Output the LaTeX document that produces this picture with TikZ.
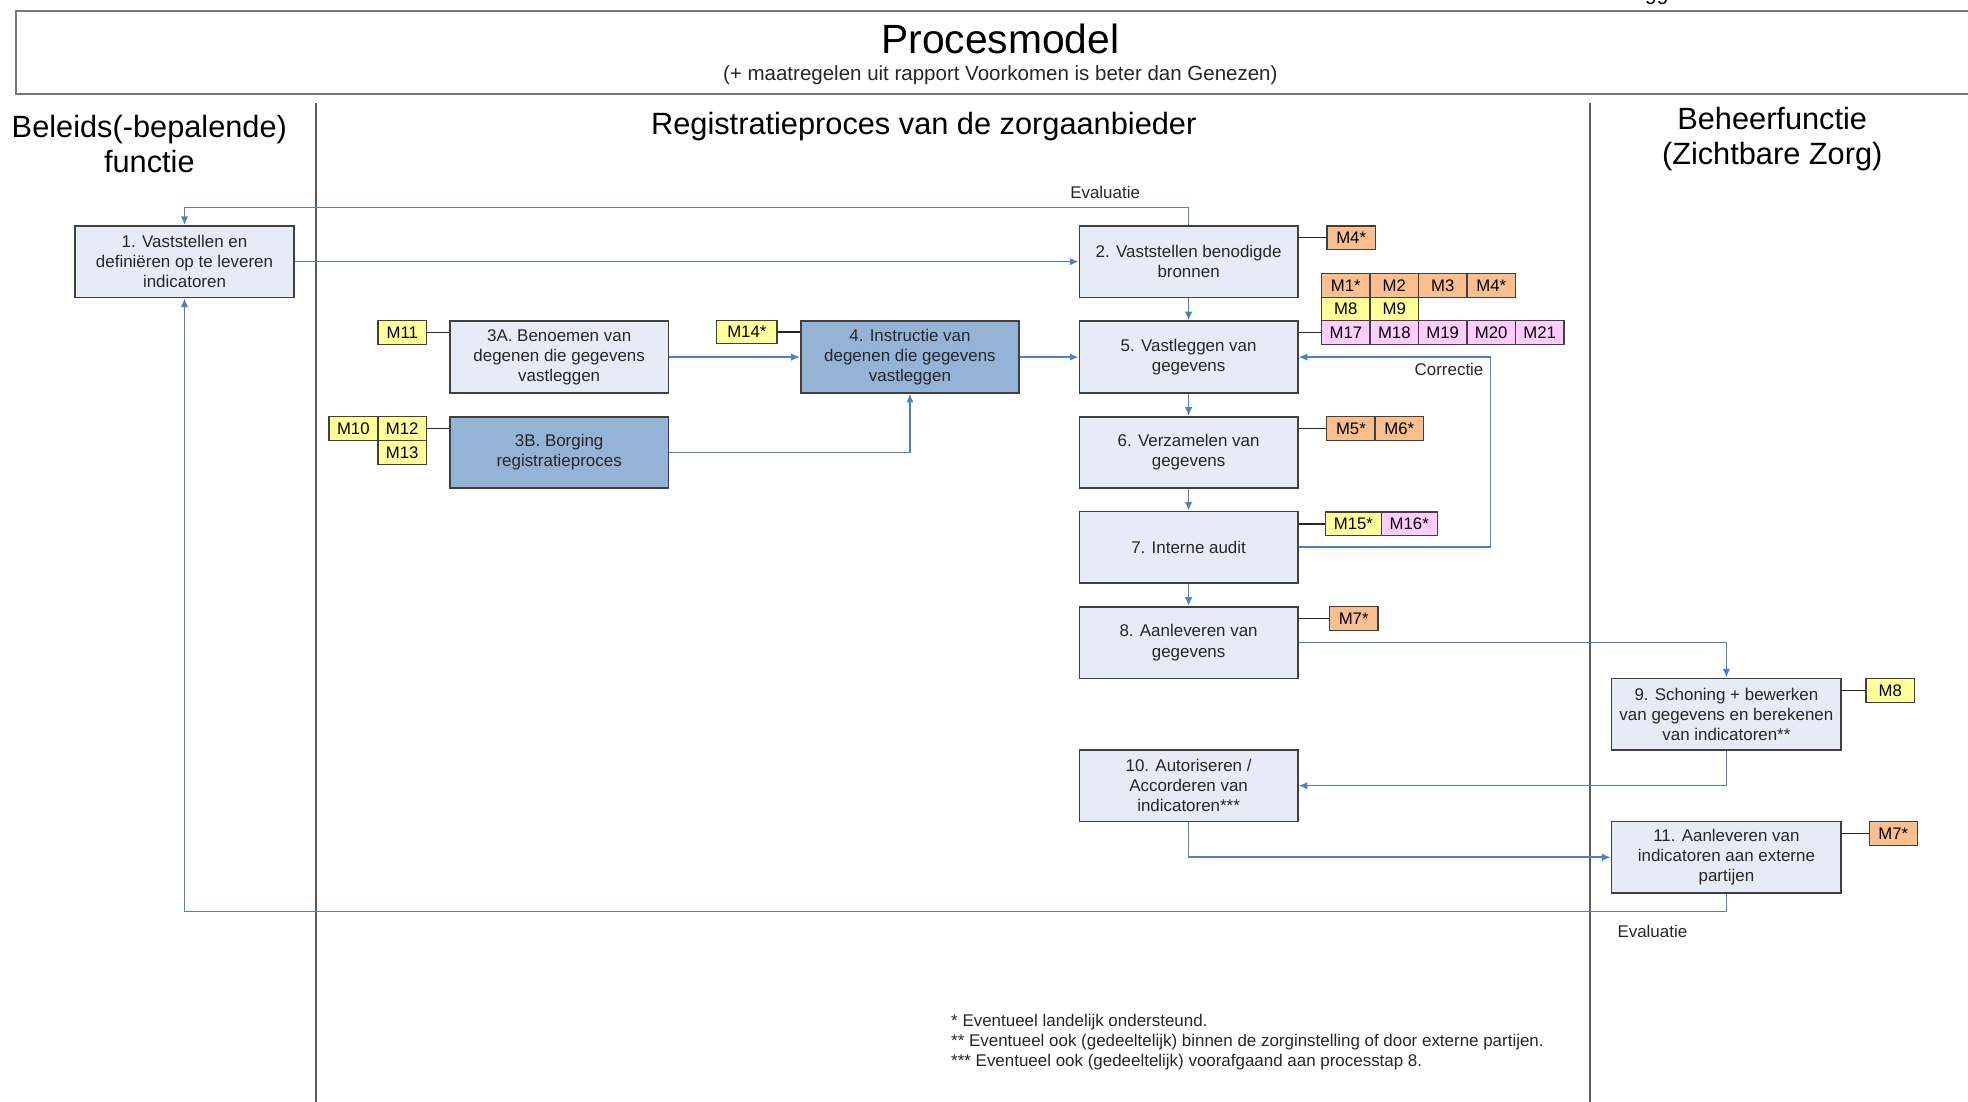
\documentclass[tikz,border=0pt]{standalone}
\usepackage{fontspec}
\setmainfont{Liberation Sans}
\usetikzlibrary{arrows.meta,positioning}

\definecolor{boxfill}{RGB}{229,236,246}
\definecolor{boxdark}{RGB}{149,179,215}
\definecolor{boxline}{RGB}{64,64,64}
\definecolor{flowc}{RGB}{79,129,189}
\definecolor{txt}{RGB}{38,38,38}
\definecolor{framec}{RGB}{120,120,120}
\definecolor{dividerc}{RGB}{90,90,90}
\definecolor{torange}{RGB}{250,191,143}
\definecolor{tyellow}{RGB}{255,255,153}
\definecolor{tpink}{RGB}{255,204,255}

\tikzset{
  proc/.style={draw=boxline, line width=0.8pt, fill=boxfill, minimum width=104.4pt,
    minimum height=34.2pt, inner sep=1pt, align=center, text=txt,
    font=\fontsize{8.1}{9.6}\selectfont},
  procdark/.style={proc, fill=boxdark},
  tag/.style={draw=boxline, line width=0.6pt, minimum width=23.16pt, minimum height=11.3pt,
    inner sep=0pt, text=black, font=\fontsize{8}{9}\selectfont},
  widetag/.style={tag, minimum width=26.7pt},
  orange/.style={fill=torange},
  yellow/.style={fill=tyellow},
  pink/.style={fill=tpink},
  flow/.style={draw=flowc, line width=0.75pt, -{Latex[length=4.2pt,width=3.6pt]}},
  link/.style={draw=black!85, line width=0.6pt},
  note/.style={text=txt, font=\fontsize{8.1}{9.6}\selectfont},
  header/.style={text=black, align=center, font=\fontsize{14.7}{16.8}\selectfont},
}

\begin{document}
\begin{tikzpicture}[x=0.6pt,y=-0.6pt]
\useasboundingbox (0,0) rectangle (1568,878);

% page number, cut off at the top edge
\node[anchor=base, font=\fontsize{10}{12}\selectfont] (pagenr) at (1320,3.5) {99};

% title frame
\draw[draw=framec, line width=1pt] (12.7,8.8) rectangle (1585,75.2);
\node[font=\fontsize{19.5}{22}\selectfont] (title) at (797,31) {Procesmodel};
\node[font=\fontsize{9.8}{11}\selectfont, text=txt] (subtitle) at (797,60)
  {(+ maatregelen uit rapport Voorkomen is beter dan Genezen)};

% column dividers and headers
\draw[draw=dividerc, line width=0.8pt] (252,82) -- (252,880);
\draw[draw=dividerc, line width=0.8pt] (1267,82) -- (1267,880);
\node[header] (hleft) at (119,115) {Beleids(-bepalende)\\functie};
\node[header] (hmid) at (736,101) {Registratieproces van de zorgaanbieder};
\node[header] (hright) at (1412,111) {Beheerfunctie\\(Zichtbare Zorg)};

% process steps
\node[proc] (b1) at (147,208.5) {1. Vaststellen en\\definiëren op te leveren\\indicatoren};
\node[proc] (b2) at (947,208.5) {2. Vaststellen benodigde\\bronnen};
\node[proc] (b3a) at (445.5,284.5) {3A. Benoemen van\\degenen die gegevens\\vastleggen};
\node[procdark] (b3b) at (445.5,360.5) {3B. Borging\\registratieproces};
\node[procdark] (b4) at (725,284.5) {4. Instructie van\\degenen die gegevens\\vastleggen};
\node[proc] (b5) at (947,284.5) {5. Vastleggen van\\gegevens};
\node[proc] (b6) at (947,360.5) {6. Verzamelen van\\gegevens};
\node[proc] (b7) at (947,436) {7. Interne audit};
\node[proc] (b8) at (947,512) {8. Aanleveren van\\gegevens};
\node[proc, minimum width=109.8pt] (b9) at (1375.5,569) {9. Schoning + bewerken\\van gegevens en berekenen\\van indicatoren**};
\node[proc] (b10) at (947,626) {10. Autoriseren /\\Accorderen van\\indicatoren***};
\node[proc, minimum width=109.8pt] (b11) at (1375.5,683) {11. Aanleveren van\\indicatoren aan externe\\partijen};

% flows
\draw[flow] (b2.north) -- ++(0,-14) -| (b1.north);
\draw[flow] (b1.east) -- (b2.west);
\draw[flow] (b2.south) -- (b5.north);
\draw[flow] (b3a.east) -- (b4.west);
\draw[flow] (b4.east) -- (b5.west);
\draw[flow] (b3b.east) -| (b4.south);
\draw[flow] (b5.south) -- (b6.north);
\draw[flow] (b6.south) -- (b7.north);
\draw[flow] (b7.south) -- (b8.north);
\draw[flow] (b7.east) -- ++(153,0) |- (b5.east);
\draw[flow] (b8.east) -| (b9.north);
\draw[flow] (b9.south) |- (b10.east);
\draw[flow] (b10.south) |- (b11.west);
\draw[flow] (b11.south) -- ++(0,14) -| (b1.south);

% flow labels
\node[note] (ev1) at (880.5,153) {Evaluatie};
\node[note] (corr) at (1154.5,294) {Correctie};
\node[note] (ev2) at (1316.5,742) {Evaluatie};

% measures: step 2
\node[tag, orange] (m2a) at (1076.5,189.5) {M4*};
\draw[link] (b2.east |- m2a.west) -- (m2a.west);

% measures: step 5
\node[tag, orange] (r1) at (1072.3,227.4) {M1*};
\node[tag, orange] (r2) at (1110.9,227.4) {M2};
\node[tag, orange] (r3) at (1149.5,227.4) {M3};
\node[tag, orange] (r4) at (1188.1,227.4) {M4*};
\node[tag, yellow] (s1) at (1072.3,246.2) {M8};
\node[tag, yellow] (s2) at (1110.9,246.2) {M9};
\node[tag, pink] (p1) at (1072.3,265) {M17};
\node[tag, pink] (p2) at (1110.9,265) {M18};
\node[tag, pink] (p3) at (1149.5,265) {M19};
\node[tag, pink] (p4) at (1188.1,265) {M20};
\node[tag, pink] (p5) at (1226.7,265) {M21};
\draw[link] (b5.east |- p1.west) -- (p1.west);

% measures: step 6
\node[tag, orange] (m6a) at (1076.3,341.5) {M5*};
\node[tag, orange] (m6b) at (1114.9,341.5) {M6*};
\draw[link] (b6.east |- m6a.west) -- (m6a.west);

% measures: step 7
\node[widetag, yellow] (m7a) at (1078.3,417.4) {M15*};
\node[widetag, pink] (m7b) at (1122.8,417.4) {M16*};
\draw[link] (b7.east |- m7a.west) -- (m7a.west);

% measures: step 8
\node[tag, orange] (m8a) at (1078.5,492.7) {M7*};
\draw[link] (b8.east |- m8a.west) -- (m8a.west);

% measures: step 9
\node[tag, yellow] (m9a) at (1506,550) {M8};
\draw[link] (b9.east |- m9a.west) -- (m9a.west);

% measures: step 11
\node[tag, orange] (m11a) at (1508.5,664) {M7*};
\draw[link] (b11.east |- m11a.west) -- (m11a.west);

% measures: step 3A
\node[tag, yellow] (m3a) at (320.5,265) {M11};
\draw[link] (m3a.east) -- (b3a.west |- m3a.east);

% measures: step 4
\node[tag, yellow, minimum width=28.8pt] (m4a) at (595,264.5) {M14*};
\draw[link] (m4a.east) -- (b4.west |- m4a.east);

% measures: step 3B
\node[tag, yellow] (m3b1) at (281.5,341.5) {M10};
\node[tag, yellow] (m3b2) at (320.5,341.5) {M12};
\node[tag, yellow] (m3b3) at (320.5,360.5) {M13};
\draw[link] (m3b2.east) -- (b3b.west |- m3b2.east);

% footnotes
\node[note, anchor=west, align=left] (notes) at (752,830)
  {* Eventueel landelijk ondersteund.\\
   ** Eventueel ook (gedeeltelijk) binnen de zorginstelling of door externe partijen.\\
   *** Eventueel ook (gedeeltelijk) voorafgaand aan processtap 8.};
\end{tikzpicture}
\end{document}
